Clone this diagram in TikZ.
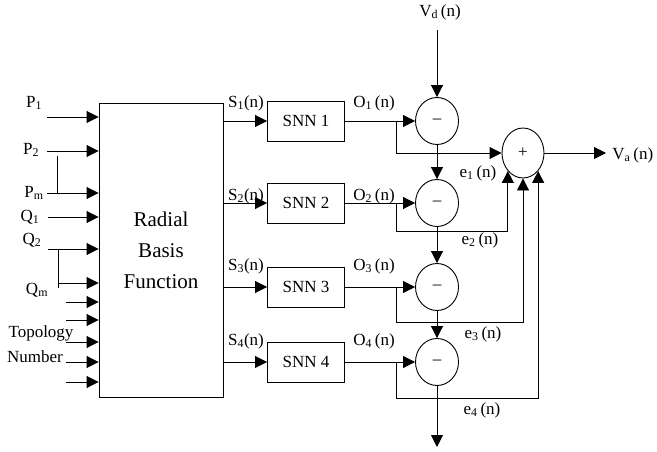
\documentclass[tikz,border=0pt]{standalone}
\usepackage{fontspec}
\setmainfont{Liberation Serif}
\usetikzlibrary{arrows.meta,calc,positioning,shapes.geometric}

\begin{document}
\begin{tikzpicture}[x=1pt,y=-1pt,line width=0.9pt,>={Triangle[length=12pt,width=12pt]},font=\fontsize{17}{19}\selectfont,
  box/.style={draw,inner sep=0pt},
  snnbox/.style={box,minimum width=77pt,minimum height=40pt},
  diff/.style={draw,ellipse,inner sep=0pt,minimum width=43pt,minimum height=47pt},
  lbl/.style={inner sep=0pt}]
  \useasboundingbox (0,0) rectangle (657,452);
  \node[box,minimum width=124pt,minimum height=294pt,align=center,font=\fontsize{21}{31}\selectfont] (rbf) at (161,250) {Radial\\Basis\\Function};
  \node[lbl] (p1) at (34,103) {P\textsubscript{1}};
  \node[lbl] (p2) at (31,150) {P\textsubscript{2}};
  \node[lbl] (pm) at (34,193) {P\textsubscript{m}};
  \node[lbl] (q1) at (30,217) {Q\textsubscript{1}};
  \node[lbl] (q2) at (32,240) {Q\textsubscript{2}};
  \node[lbl] (qm) at (37,290) {Q\textsubscript{m}};
  \node[lbl] (topo) at (41,333) {Topology};
  \node[lbl] (num) at (35,357) {Number};
  \coordinate (p1s) at (47,117);\coordinate (p2s) at (47,151);\coordinate (pms) at (47,193);
  \coordinate (q1s) at (48,217);\coordinate (q2s) at (48,249);\coordinate (qms) at (58,283);
  \foreach \c in {p1s,p2s,pms,q1s,q2s,qms} {\draw[->] (\c) -- (rbf.west |- \c);}
  \draw (57,156) -- (57,193);\draw (58,249) -- (58,288);
  \foreach \y [count=\i] in {302,320,342,362,382} {\coordinate (t\i) at (66,\y);\draw[->] (t\i) -- (rbf.west |- t\i);}
  \node[draw,ellipse,inner sep=0pt,minimum width=42pt,minimum height=50pt] (sum) at (523,153) {\raisebox{-2pt}{+}};
  \foreach \i/\y/\ly in {1/121/103,2/203/196,3/287/266,4/362/341} {
    \node[snnbox] (snn\i) at (306,\y) {SNN \i};
    \node[diff] (d\i) at (437,\y) {\raisebox{-4pt}{--}};
    \node[lbl] (s\i) at (246,\ly) {S\textsubscript{\i}(n)};
    \node[lbl] (o\i) at (374,\ly) {O\textsubscript{\i}\,(n)};
    \coordinate (b\i) at (396,\y);
    \draw[->] (rbf.east |- snn\i) -- (snn\i);
    \draw[->] (snn\i) -- (d\i);
  }
  \draw[->] (b1) |- (sum.west);
  \draw[->] (b2) -- (396,231) -| (sum.south west);
  \draw[->] (b3) -- (396,322) -| (sum.south);
  \draw[->] (b4) -- (396,398) -| (sum.south east);
  \node[lbl] (e1) at (478,173) {e\textsubscript{1}\,(n)};
  \node[lbl] (e2) at (480,240) {e\textsubscript{2}\,(n)};
  \node[lbl] (e3) at (483,334) {e\textsubscript{3}\,(n)};
  \node[lbl] (e4) at (482,410) {e\textsubscript{4}\,(n)};
  \node[lbl] (vd) at (440,12) {V\textsubscript{d}\,(n)};
  \coordinate (vdtop) at (437,30);
  \draw[->] (vdtop) -- (d1);
  \draw[->] (d1) -- (d2);\draw[->] (d2) -- (d3);\draw[->] (d3) -- (d4);
  \coordinate (dout) at (437,447);
  \draw[->] (d4) -- (dout);
  \coordinate (vaend) at (606,153);
  \draw[->] (sum) -- (vaend);
  \node[lbl,anchor=west] (va) at (612,155) {V\textsubscript{a}\,(n)};
\end{tikzpicture}
\end{document}
